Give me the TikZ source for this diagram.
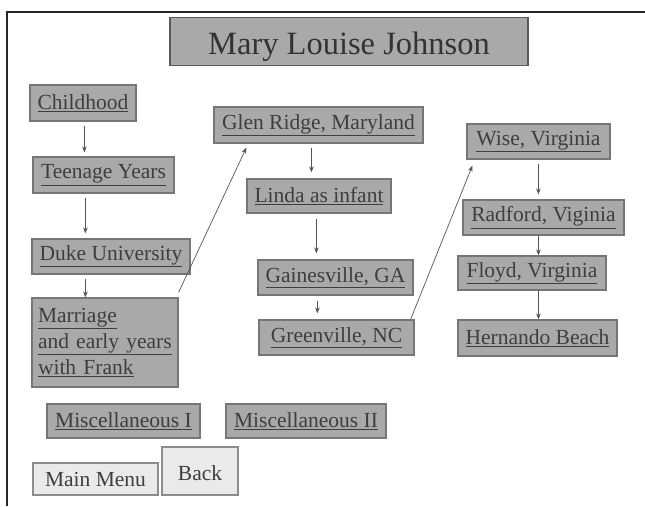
\documentclass[tikz,border=0pt]{standalone}
\usepackage{fontspec}
\setmainfont{Liberation Serif}
\usetikzlibrary{arrows.meta}
\definecolor{boxfill}{HTML}{A9A9A9}
\definecolor{boxline}{HTML}{767676}
\definecolor{txt}{HTML}{3E3E3E}
\definecolor{btnfill}{HTML}{EAEAEA}
\definecolor{btnline}{HTML}{8C8C8C}
\definecolor{arrline}{HTML}{555555}
\newcommand{\lnk}[1]{\underline{#1}}
\tikzset{
  box/.style={draw=boxline, line width=1.2pt, fill=boxfill, inner sep=0pt,
    text=txt, font=\fontsize{21.5}{25}\selectfont, align=center},
  titlebox/.style={box, line width=1.5pt, draw=black!65, font=\fontsize{32.5}{36}\selectfont, text=black!80},
  btn/.style={draw=btnline, line width=2pt, fill=btnfill, inner sep=0pt,
    text=txt, font=\fontsize{21.5}{25}\selectfont},
  arr/.style={draw=arrline, line width=0.7pt, -{Stealth[length=6pt,width=4.5pt]}},
  frameline/.style={draw=black!85, line width=1.6pt}
}
\begin{document}
\begin{tikzpicture}[x=1pt,y=-1pt]
\useasboundingbox (0,0) rectangle (645,506);
\fill[white] (0,0) rectangle (645,506);
\coordinate (fa) at (7,506);
\coordinate (fb) at (7,12);
\coordinate (fc) at (645,12);
\draw[frameline] (fa) -- (fb) -- (fc);

\node[titlebox, minimum width=358pt, minimum height=48pt, text height=32pt, text depth=7pt] (title) at (349,41.5) {Mary Louise Johnson};

\node[box, minimum width=106pt, minimum height=36pt] (child) at (83,103) {\lnk{Childhood}};
\node[box, minimum width=141pt, minimum height=36pt] (teen) at (103.5,175) {\lnk{Teenage Years}};
\node[box, minimum width=158pt, minimum height=35pt] (duke) at (111,256.5) {\lnk{Duke University}};
\node[box, minimum width=146pt, minimum height=89pt, align=left, text width=134pt,
  font=\fontsize{21.5}{26}\selectfont] (marr) at (105,342.5)
  {\raisebox{-2pt}{\lnk{Marriage}}\\\raisebox{-2pt}{\lnk{and early years}}\\\raisebox{-2pt}{\lnk{with Frank}}};

\node[box, minimum width=209pt, minimum height=36pt] (glen) at (318.5,125) {\lnk{Glen Ridge, Maryland}};
\node[box, minimum width=144pt, minimum height=34pt] (linda) at (319,196) {\lnk{Linda as infant}};
\node[box, minimum width=155pt, minimum height=35pt] (gain) at (335.5,277.5) {\lnk{Gainesville, GA}};
\node[box, minimum width=155pt, minimum height=35pt] (green) at (336.5,337.5) {\lnk{Greenville, NC}};

\node[box, minimum width=143pt, minimum height=35pt] (wise) at (538.5,141.5) {\lnk{Wise, Virginia}};
\node[box, minimum width=161pt, minimum height=35pt] (radf) at (543.5,217.5) {\lnk{Radford, Viginia}};
\node[box, minimum width=148pt, minimum height=34pt] (floyd) at (532,273) {\lnk{Floyd, Virginia}};
\node[box, minimum width=159pt, minimum height=36pt] (hern) at (537.5,338) {\lnk{Hernando Beach}};

\node[box, minimum width=153pt, minimum height=34pt] (misc1) at (123.5,421) {\lnk{Miscellaneous I}};
\node[box, minimum width=160pt, minimum height=34pt] (misc2) at (306,421) {\lnk{Miscellaneous II}};

\node[btn, minimum width=125pt, minimum height=32pt] (main) at (95.5,479) {Main Menu};
\node[btn, minimum width=76pt, minimum height=48pt, text height=18pt, text depth=0pt] (back) at (200,471) {Back};

% vertical arrows
\draw[arr, shorten <=4pt, shorten >=4pt] ([xshift=55pt]child.south west) -- ([xshift=55pt]child.south west |- teen.north);
\draw[arr, shorten <=4pt, shorten >=5pt] ([xshift=53pt]teen.south west) -- ([xshift=53pt]teen.south west |- duke.north);
\draw[arr, shorten <=4pt] ([xshift=54pt]duke.south west) -- ([xshift=54pt]duke.south west |- marr.north);
\draw[arr, shorten <=4pt, shorten >=6pt] ([xshift=98pt]glen.south west) -- ([xshift=98pt]glen.south west |- linda.north);
\draw[arr, shorten <=5pt, shorten >=6pt] ([xshift=70pt]linda.south west) -- ([xshift=70pt]linda.south west |- gain.north);
\draw[arr, shorten <=5pt, shorten >=6pt] ([xshift=60pt]gain.south west) -- ([xshift=60pt]gain.south west |- green.north);
\draw[arr, shorten <=4pt, shorten >=5pt] ([xshift=72pt]wise.south west) -- ([xshift=72pt]wise.south west |- radf.north);
\draw[arr] ([xshift=76pt]radf.south west) -- ([xshift=76pt]radf.south west |- floyd.north);
\draw[arr] ([xshift=81pt]floyd.south west) -- ([xshift=81pt]floyd.south west |- hern.north);

% diagonal arrows
\draw[arr] ([yshift=5pt]marr.north east) -- ([xshift=33pt,yshift=-4pt]glen.south west);
\draw[arr] ([xshift=-4pt]green.north east) -- ([xshift=6pt,yshift=-6pt]wise.south west);
\end{tikzpicture}
\end{document}
